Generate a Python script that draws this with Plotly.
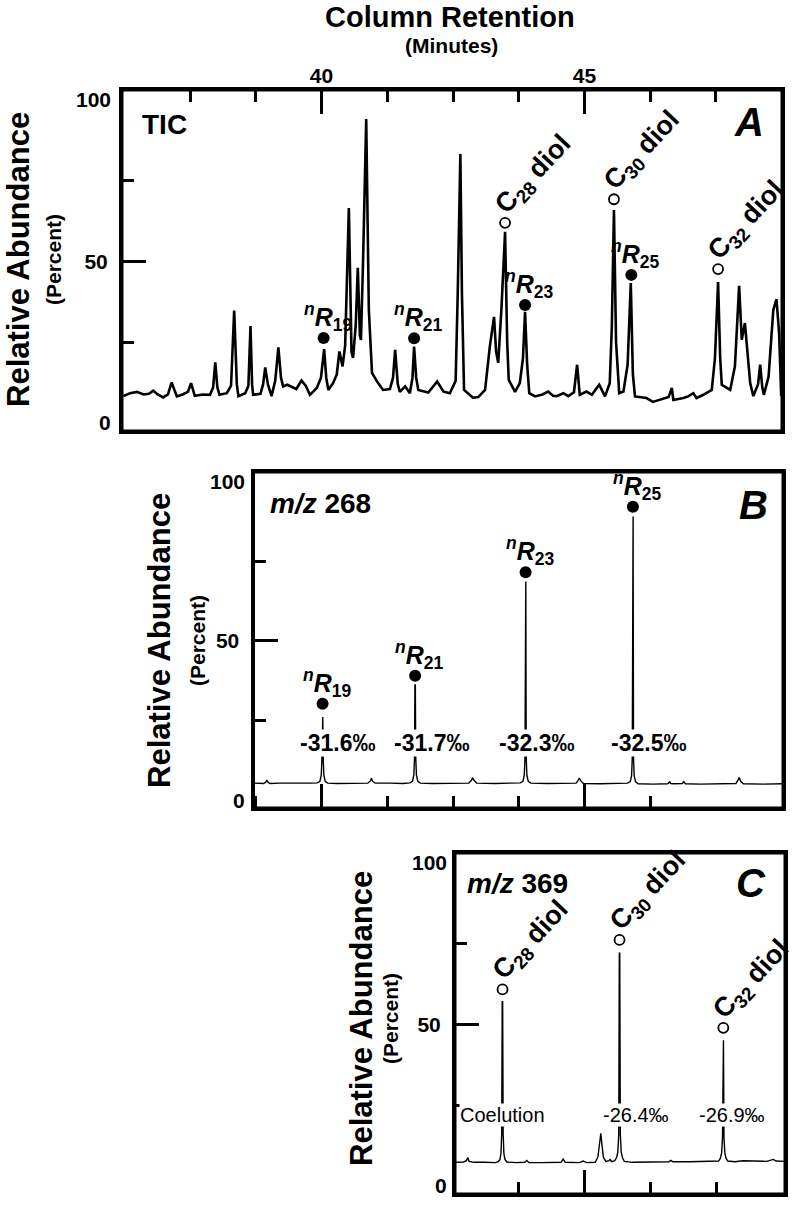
import plotly.graph_objects as go

W, H = 796, 1205
FONT = "Liberation Sans, Arial, Helvetica, sans-serif"

# ---------------- data (retention time in minutes, relative abundance in %) ----------------
# Panel A : total ion chromatogram
tic_points = [
    (36.23, 8.3), (36.36, 9.2), (36.49, 9.6), (36.62, 8.8), (36.72, 9.0), (36.80, 10.0), (36.88, 8.9),
    (36.99, 7.9), (37.08, 8.8), (37.15, 12.5), (37.25, 8.2), (37.36, 8.8), (37.46, 9.6), (37.52, 12.3),
    (37.59, 8.4), (37.75, 8.8), (37.88, 8.7), (37.94, 11.0), (37.98, 18.7), (38.02, 11.0), (38.06, 8.7),
    (38.20, 9.2), (38.28, 11.5), (38.34, 34.8), (38.39, 12.0), (38.42, 8.3), (38.55, 9.2), (38.61, 11.5),
    (38.65, 30.0), (38.68, 12.0), (38.70, 8.7), (38.84, 9.0), (38.89, 12.0), (38.93, 17.2), (38.98, 12.0),
    (39.05, 8.3), (39.12, 13.0), (39.18, 23.4), (39.23, 14.0), (39.27, 11.3), (39.35, 11.8), (39.43, 11.3),
    (39.52, 10.5), (39.62, 13.1), (39.70, 11.5), (39.78, 8.7), (39.91, 10.8), (39.99, 14.0), (40.05, 22.8),
    (40.09, 14.0), (40.13, 10.2), (40.22, 12.3), (40.29, 15.0), (40.34, 22.1), (40.40, 17.5), (40.45, 24.0),
    (40.52, 66.5), (40.57, 22.0), (40.60, 20.1), (40.65, 30.0), (40.69, 48.0), (40.73, 27.0), (40.75, 25.7),
    (40.79, 50.0), (40.85, 94.0), (40.90, 35.0), (40.96, 15.5), (41.06, 12.7), (41.17, 10.2), (41.30, 10.5),
    (41.36, 14.0), (41.40, 22.6), (41.45, 12.0), (41.49, 9.6), (41.59, 11.3), (41.68, 9.2), (41.73, 14.0),
    (41.76, 23.6), (41.80, 14.0), (41.84, 10.2), (42.03, 9.4), (42.20, 12.8), (42.32, 9.7), (42.44, 9.2),
    (42.55, 13.0), (42.59, 40.0), (42.64, 83.2), (42.67, 40.0), (42.71, 10.2), (42.88, 7.8), (42.98, 8.0),
    (43.11, 10.2), (43.20, 23.6), (43.28, 32.8), (43.32, 22.0), (43.36, 18.6), (43.42, 35.0), (43.49, 59.1),
    (43.53, 25.0), (43.56, 13.3), (43.68, 9.6), (43.77, 12.3), (43.83, 20.0), (43.87, 34.4), (43.91, 18.0),
    (43.95, 9.2), (44.06, 8.2), (44.20, 8.8), (44.31, 9.7), (44.40, 8.4), (44.47, 8.3), (44.60, 9.2),
    (44.69, 8.3), (44.80, 9.5), (44.86, 18.0), (44.91, 8.7), (45.04, 9.7), (45.14, 8.7), (45.28, 11.8),
    (45.39, 8.2), (45.48, 12.3), (45.52, 30.0), (45.56, 65.9), (45.60, 25.0), (45.66, 9.2), (45.74, 9.7),
    (45.82, 18.0), (45.88, 43.3), (45.92, 15.0), (45.96, 8.2), (46.18, 7.7), (46.30, 6.5), (46.44, 7.1),
    (46.60, 8.0), (46.66, 10.8), (46.69, 7.1), (46.88, 7.7), (46.97, 8.2), (47.07, 9.2), (47.13, 7.7),
    (47.26, 8.7), (47.42, 10.2), (47.48, 20.0), (47.54, 43.6), (47.58, 20.0), (47.61, 11.8), (47.77, 10.2),
    (47.86, 17.5), (47.94, 42.4), (47.99, 25.7), (48.05, 30.9), (48.15, 12.3), (48.21, 8.3), (48.30, 12.0),
    (48.34, 18.0), (48.38, 11.0), (48.41, 8.7), (48.50, 14.3), (48.59, 35.0), (48.65, 38.3), (48.70, 27.8),
    (48.74, 8.3),
]
tic_time = [p[0] for p in tic_points]
tic_abund = [p[1] for p in tic_points]

# Panel B : m/z 268
mz268_points = [
    (38.71, 5.3), (38.80, 5.3), (38.90, 5.2), (38.94, 5.6), (38.96, 6.3), (38.98, 5.6), (39.02, 5.2),
    (39.20, 5.3), (39.40, 5.2), (39.60, 5.3), (39.80, 5.3), (39.92, 5.4), (39.97, 5.9), (39.995, 7.8),
    (40.008, 13.0), (40.016, 26.1), (40.024, 26.1), (40.032, 13.0), (40.045, 7.8), (40.07, 5.9),
    (40.12, 5.3), (40.30, 5.2), (40.60, 5.3), (40.88, 5.3), (40.93, 6.0), (40.95, 6.8), (40.97, 6.0),
    (41.02, 5.3), (41.30, 5.3), (41.55, 5.2), (41.68, 5.4), (41.73, 5.9), (41.755, 7.8), (41.768, 13.0),
    (41.776, 36.1), (41.784, 36.1), (41.792, 13.0), (41.805, 7.8), (41.83, 5.9), (41.88, 5.3),
    (42.10, 5.2), (42.50, 5.3), (42.80, 5.3), (42.85, 6.2), (42.87, 7.0), (42.90, 6.2), (42.95, 5.3),
    (43.30, 5.2), (43.60, 5.3), (43.78, 5.4), (43.83, 5.9), (43.855, 7.8), (43.868, 13.0), (43.876, 68.6),
    (43.884, 68.6), (43.892, 13.0), (43.905, 7.8), (43.93, 5.9), (43.98, 5.3), (44.30, 5.2), (44.60, 5.2),
    (44.84, 5.3), (44.88, 6.2), (44.90, 6.9), (44.93, 6.0), (44.98, 5.2), (45.30, 5.1), (45.60, 5.1),
    (45.82, 5.3), (45.87, 5.8), (45.895, 7.6), (45.908, 13.0), (45.916, 89.0), (45.924, 89.0),
    (45.932, 13.0), (45.945, 7.6), (45.97, 5.8), (46.02, 5.1), (46.30, 5.0), (46.58, 5.1), (46.62, 5.7),
    (46.64, 5.2), (46.70, 5.1), (46.86, 5.2), (46.89, 5.8), (46.92, 5.1), (47.20, 5.0), (47.60, 5.1),
    (47.88, 5.2), (47.92, 6.3), (47.94, 7.1), (47.97, 5.9), (48.02, 5.1), (48.40, 5.0), (48.77, 5.1),
]
mz268_time = [p[0] for p in mz268_points]
mz268_abund = [p[1] for p in mz268_points]

# Panel C : m/z 369
mz369_points = [
    (42.54, 7.3), (42.70, 7.4), (42.755, 7.8), (42.78, 8.8), (42.805, 7.6), (42.90, 7.3), (43.10, 7.3),
    (43.30, 7.2), (43.36, 7.5), (43.39, 8.2), (43.41, 10.0), (43.424, 16.0), (43.434, 57.0), (43.442, 57.0),
    (43.452, 16.0), (43.466, 10.0), (43.486, 8.2), (43.52, 7.4), (43.70, 7.2), (43.86, 7.3), (43.90, 7.9),
    (43.94, 7.2), (44.20, 7.2), (44.55, 7.3), (44.59, 8.3), (44.63, 7.3), (44.90, 7.2), (44.97, 7.7),
    (45.04, 7.2), (45.20, 7.3), (45.25, 9.0), (45.285, 13.0), (45.305, 16.3), (45.325, 13.0), (45.355, 8.8),
    (45.40, 7.6), (45.46, 7.8), (45.48, 8.2), (45.51, 7.5), (45.57, 7.8), (45.605, 8.8), (45.628, 10.5),
    (45.645, 16.0), (45.656, 72.0), (45.664, 72.0), (45.675, 16.0), (45.692, 10.5), (45.715, 8.8),
    (45.75, 7.6), (45.90, 7.3), (46.20, 7.3), (46.60, 7.5), (46.63, 7.9), (46.67, 7.5), (47.00, 7.5),
    (47.40, 7.5), (47.54, 7.7), (47.575, 8.6), (47.598, 10.3), (47.614, 15.0), (47.624, 45.1),
    (47.632, 45.1), (47.642, 15.0), (47.658, 10.3), (47.68, 8.6), (47.715, 7.7), (47.85, 7.5),
    (48.00, 7.8), (48.20, 7.7), (48.45, 7.6), (48.58, 8.2), (48.63, 7.7), (48.80, 7.6),
]
mz369_time = [p[0] for p in mz369_points]
mz369_abund = [p[1] for p in mz369_points]

# compound markers
nR_subs = ["19", "21", "23", "25"]
diol_subs = ["28", "30", "32"]

A_nR_time = [40.04, 41.76, 43.87, 45.89]
A_nR_mark = [26.3, 26.2, 36.5, 45.8]
A_diol_time = [43.49, 45.56, 47.54]
A_diol_mark = [61.9, 69.2, 47.6]

B_nR_time = [40.02, 41.78, 43.88, 45.92]
B_nR_mark = [30.2, 39.0, 71.5, 92.1]
B_delta = ["-31.6‰", "-31.7‰", "-32.3‰", "-32.5‰"]

C_diol_time = [43.44, 45.66, 47.63]
C_diol_mark = [60.8, 76.1, 48.9]
C_delta = ["Coelution", "-26.4‰", "-26.9‰"]

x_major = [40, 45]
x_major_text = ["40", "45"]
x_minor_A = [37.5, 38.75, 41.25, 42.5, 43.75, 46.25, 47.5]
x_minor_B = [38.75, 41.25, 42.5, 43.75, 46.25]
x_minor_C = [43.75, 46.25, 47.5]
y_major = [50]
y_minor = [25, 75]

# ---------------- layout geometry (pixels) ----------------
def px(v):
    return v / W


def py(v):
    return 1 - v / H


boxes = {  # left, right, top, bottom in pixels
    "A": (122, 782, 90, 431),
    "B": (253.5, 783, 472, 808),
    "C": (455, 785, 853, 1194),
}
xranges = {"A": [36.207, 48.755], "B": [38.707, 48.774], "C": [42.538, 48.80]}
YRANGE = [-2.5, 103]

fig = go.Figure()

fig.add_trace(go.Scatter(x=tic_time, y=tic_abund, mode="lines", line=dict(color="black", width=2.6),
                         xaxis="x", yaxis="y", hoverinfo="skip"))
fig.add_trace(go.Scatter(x=mz268_time, y=mz268_abund, mode="lines", line=dict(color="black", width=1.4),
                         xaxis="x2", yaxis="y2", hoverinfo="skip"))
fig.add_trace(go.Scatter(x=mz369_time, y=mz369_abund, mode="lines", line=dict(color="black", width=1.4),
                         xaxis="x3", yaxis="y3", hoverinfo="skip"))

dot = dict(size=12, color="black")
circ = dict(size=10, color="white", line=dict(color="black", width=1.8))
fig.add_trace(go.Scatter(x=A_nR_time, y=A_nR_mark, mode="markers", marker=dot, xaxis="x", yaxis="y"))
fig.add_trace(go.Scatter(x=A_diol_time, y=A_diol_mark, mode="markers", marker=circ, xaxis="x", yaxis="y"))
fig.add_trace(go.Scatter(x=B_nR_time, y=B_nR_mark, mode="markers", marker=dot, xaxis="x2", yaxis="y2"))
fig.add_trace(go.Scatter(x=C_diol_time, y=C_diol_mark, mode="markers", marker=circ, xaxis="x3", yaxis="y3"))

TICKFONT = dict(family=FONT, size=21, color="black")


def xaxis_cfg(key, minor, top):
    l, r, t, b = boxes[key]
    return dict(
        domain=[px(l), px(r)], range=xranges[key], showline=True, mirror=True, linewidth=3,
        linecolor="black", showgrid=False, zeroline=False, ticks="inside", ticklen=24, tickwidth=3,
        tickcolor="black", tickmode="array", tickvals=x_major,
        ticktext=["<b>%s</b>" % t_ for t_ in x_major_text] if top else ["", ""],
        showticklabels=top, side="top" if top else "bottom", tickfont=TICKFONT, ticklabelstandoff=-4,
        minor=dict(tickmode="array", tickvals=minor, ticks="inside", ticklen=12, tickwidth=3,
                   tickcolor="black", showgrid=False),
        fixedrange=True,
    )


def yaxis_cfg(key):
    l, r, t, b = boxes[key]
    return dict(
        domain=[py(b), py(t)], range=YRANGE, showline=True, mirror=True, linewidth=3,
        linecolor="black", showgrid=False, zeroline=False, ticks="inside", ticklen=24, tickwidth=3,
        tickcolor="black", tickmode="array", tickvals=y_major, ticktext=["<b>50</b>"],
        tickfont=TICKFONT, ticklabelstandoff=7,
        minor=dict(tickmode="array", tickvals=y_minor, ticks="inside", ticklen=12, tickwidth=3,
                   tickcolor="black", showgrid=False),
        fixedrange=True,
    )


ann = []


def text(x, y, s, size, xref="paper", yref="paper", angle=0, xanchor="center", yanchor="middle",
         xshift=0, yshift=0, bg=None):
    d = dict(x=x, y=y, xref=xref, yref=yref, text=s, showarrow=False, textangle=angle,
             xanchor=xanchor, yanchor=yanchor, xshift=xshift, yshift=yshift,
             font=dict(family=FONT, size=size, color="black"))
    if bg:
        d["bgcolor"] = bg
        d["borderpad"] = 0
    ann.append(d)


# top title
text(px(450), py(17), "<b>Column Retention</b>", 29)
text(px(451), py(46), "<b>(Minutes)</b>", 21)

# y-axis titles
for (xa, xb, yc) in [(18, 53, 260), (159, 197, 641), (361, 390, 1019)]:
    text(px(xa), py(yc), "<b>Relative Abundance</b>", 31, angle=-90)
    text(px(xb), py(yc), "<b>(Percent)</b>", 21, angle=-90)

# 0 / 100 labels
for yref, xr, sh in [("y", "x domain", -9), ("y2", "x2 domain", -7), ("y3", "x3 domain", -6)]:
    text(0, 100, "<b>100</b>", 21, xref=xr, yref=yref, xanchor="right", xshift=sh)
    text(0, 0, "<b>0</b>", 21, xref=xr, yref=yref, xanchor="right", xshift=sh)

# panel headings
text(px(140), py(125), "<b>TIC</b>", 28, xanchor="left")
text(px(766), py(122), "<b><i>A</i></b>", 40, xanchor="right")
text(px(268), py(503), "<b><i>m/z</i> 268</b>", 28, xanchor="left")
text(px(770), py(505), "<b><i>B</i></b>", 40, xanchor="right")
text(px(465), py(884), "<b><i>m/z</i> 369</b>", 28, xanchor="left")
text(px(768), py(883), "<b><i>C</i></b>", 40, xanchor="right")


def nr_label(t, v, s, xr, yr):
    text(t, v, "<b><i><sup>n</sup>R</i><sub>%s</sub></b>" % s, 25, xref=xr, yref=yr,
         xanchor="center", yanchor="bottom", xshift=4, yshift=1)


def diol_label(t, v, s, xr, yr):
    text(t, v, "<b>C<sub>%s</sub> diol</b>" % s, 27, xref=xr, yref=yr, angle=-47,
         xanchor="center", yanchor="middle", xshift=29, yshift=48)


for t, v, s in zip(A_nR_time, A_nR_mark, nR_subs):
    nr_label(t, v, s, "x", "y")
for t, v, s in zip(A_diol_time, A_diol_mark, diol_subs):
    diol_label(t, v, s, "x", "y")
for t, v, s in zip(B_nR_time, B_nR_mark, nR_subs):
    nr_label(t, v, s, "x2", "y2")
for t, v, s in zip(C_diol_time, C_diol_mark, diol_subs):
    diol_label(t, v, s, "x3", "y3")

for t, s, sh in zip(B_nR_time, B_delta, [15, 16, 11, 16]):
    text(t, 17.9, "<b>%s</b>" % s, 23, xref="x2", yref="y2", xshift=sh, bg="white")
for t, s, sh in zip(C_diol_time, C_delta, [0, 16, 9]):
    text(t, 21.9, s, 20, xref="x3", yref="y3", xshift=sh, bg="white")

# panel frames
shapes = []
for xr, yr in [("x", "y"), ("x2", "y2"), ("x3", "y3")]:
    shapes.append(dict(type="rect", xref=xr + " domain", yref=yr + " domain", x0=0, x1=1, y0=0, y1=1,
                       line=dict(color="black", width=3), fillcolor="rgba(0,0,0,0)", layer="above"))

fig.update_layout(
    width=W, height=H, margin=dict(l=0, r=0, t=0, b=0, pad=0),
    paper_bgcolor="white", plot_bgcolor="white", showlegend=False,
    font=dict(family=FONT, color="black"),
    xaxis=dict(xaxis_cfg("A", x_minor_A, True), anchor="y"),
    yaxis=dict(yaxis_cfg("A"), anchor="x"),
    xaxis2=dict(xaxis_cfg("B", x_minor_B, False), anchor="y2"),
    yaxis2=dict(yaxis_cfg("B"), anchor="x2"),
    xaxis3=dict(xaxis_cfg("C", x_minor_C, False), anchor="y3"),
    yaxis3=dict(yaxis_cfg("C"), anchor="x3"),
    annotations=ann,
    shapes=shapes,
)

fig.write_html(
    "out.html",
    config={"displayModeBar": False},
    post_script="document.body.style.margin='0px';document.body.style.overflow='hidden';",
)
